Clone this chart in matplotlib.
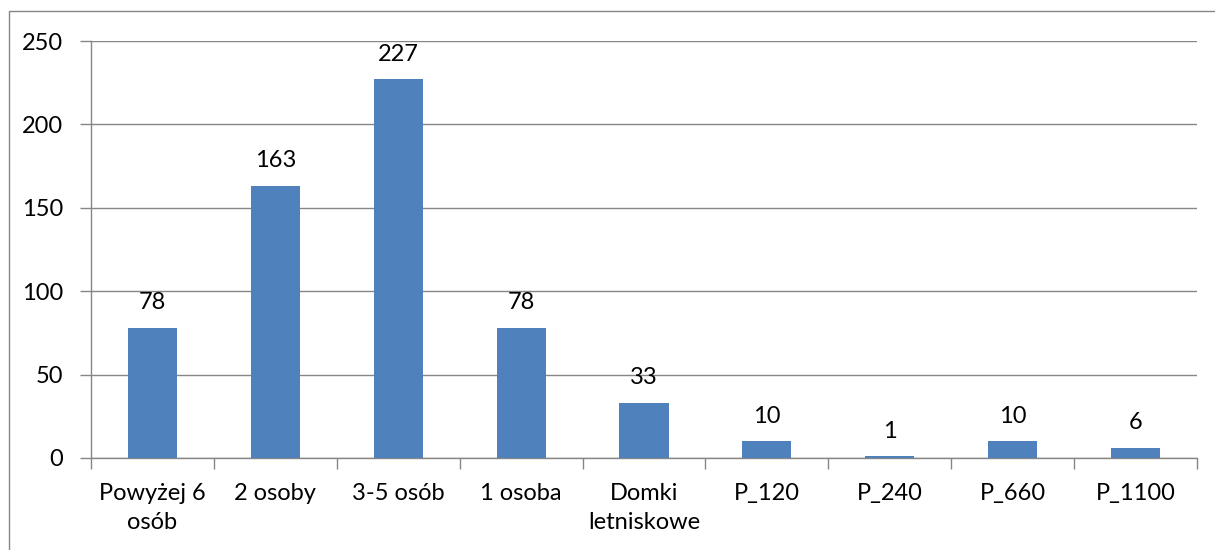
import numpy as np
import matplotlib.pyplot as plt
from matplotlib.patches import Rectangle

# chart data
categories = ['Powyżej 6\nosób', '2 osoby', '3-5 osób', '1 osoba', 'Domki\nletniskowe',
              'P_120', 'P_240', 'P_660', 'P_1100']
values = [78, 163, 227, 78, 33, 10, 1, 10, 6]
yticks = [0, 50, 100, 150, 200, 250]

plt.rcParams['font.family'] = ['Lato', 'DejaVu Sans']

W, H = 1215, 550
fig = plt.figure(figsize=(W / 100, H / 100), dpi=100)
ax = fig.add_axes([91 / W, 1 - 458 / H, (1197 - 91) / W, (458 - 41) / H])

grey = '#868686'
fs = 17
x = np.arange(len(values))
ax.bar(x, values, width=0.4, color='#4F81BD', zorder=3)

# value labels over bars
for xi, v in zip(x, values):
    ax.annotate(str(v), (xi, v), xytext=(0, 13.5), textcoords='offset points',
                ha='center', va='baseline', fontsize=fs, color='black')

ax.set_xlim(-0.5, len(values) - 0.5)
ax.set_ylim(0, 250)
ax.set_yticks(yticks)
ax.set_yticklabels([str(t) for t in yticks], fontsize=fs)
ax.yaxis.grid(True, color=grey, lw=1, zorder=0)

ax.set_xticks(x)
ax.set_xticklabels(categories, fontsize=fs, linespacing=1.45, va='top')
ax.set_xticks(np.arange(-0.5, len(values)), minor=True)
ax.tick_params(axis='x', which='major', length=0, pad=18)
ax.tick_params(axis='x', which='minor', length=8, color=grey, width=1)
ax.tick_params(axis='y', length=8, color=grey, width=1, pad=12)

for side in ['top', 'right']:
    ax.spines[side].set_visible(False)
for side in ['left', 'bottom']:
    ax.spines[side].set_color(grey)
    ax.spines[side].set_linewidth(1)

# outer chart border (cut off on right and bottom)
fig.patches.append(Rectangle((9 / W, -0.1), 1.2, (H - 11) / H + 0.1,
                             transform=fig.transFigure, fill=False,
                             edgecolor=grey, lw=1))

fig.savefig('out.png', dpi=100)
